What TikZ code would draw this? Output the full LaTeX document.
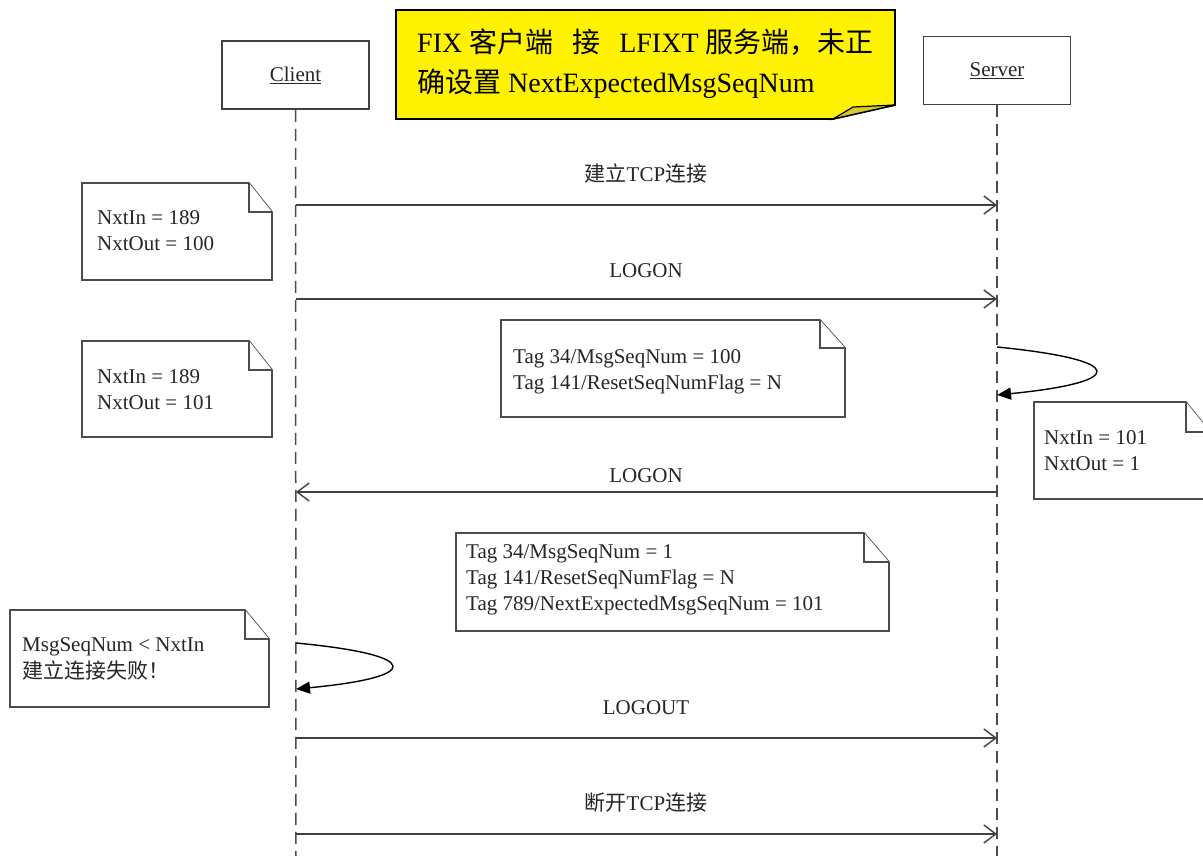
\documentclass[tikz,border=0pt]{standalone}
\usepackage{fontspec}
\setmainfont{Liberation Serif}
\newfontfamily\cjk{Noto Sans CJK SC}
\usetikzlibrary{arrows.meta}
\newcommand\myfs[1]{\fontsize{#1}{#1}\selectfont}
\newcommand\zh[1]{{\cjk #1}}
\newcommand\notepath[6]{%
  \draw[notebox] (#1,#2) -- ({#3-#5},#2) -- (#3,{#2+#6}) -- (#3,#4) -- (#1,#4) -- cycle;
  \draw[notebox] ({#3-#5},#2) -- ({#3-#5},{#2+#6}) -- (#3,{#2+#6});}
\tikzset{
  lifebox/.style={draw=black!75, line width=1.7pt, fill=white, minimum width=147pt, minimum height=68pt, inner sep=0pt, font=\myfs{21}, text=black!85},
  lifeline/.style={draw=black!70, line width=1.5pt, dash pattern=on 12pt off 7pt},
  msg/.style={draw=black!75, line width=1.4pt, -{Straight Barb[length=12pt,width=18pt,line width=1.4pt]}},
  selfmsg/.style={draw=black, line width=1.4pt, -{Triangle[length=14pt,width=12pt]}},
  notebox/.style={draw=black!70, line width=1.7pt, fill=white},
  notetext/.style={anchor=base west, inner sep=0pt, font=\myfs{21}, text=black!85},
  msglbl/.style={font=\myfs{21}, inner sep=0pt, text=black!85},
  titletext/.style={anchor=base west, inner sep=0pt, font=\myfs{28}, text=black},
}
\begin{document}
\begin{tikzpicture}[x=1pt,y=-1pt]
\useasboundingbox (0,0) rectangle (1203,856);
\fill[white] (0,0) rectangle (1203,856);

% lifeline heads
\node[lifebox] (client) at (295.5,75) {\underline{Client}};
\node[lifebox] (server) at (997,70.5) {\underline{Server}};
\coordinate (cend) at (296,860);
\coordinate (send) at (997,860);
\draw[lifeline] (client.south) -- (cend);
\draw[lifeline] (server.south) -- (send);

% title note
\draw[draw=black, line width=1.8pt, fill=yellow] (396,10) -- (895,10) -- (895,105) -- (833,119) -- (396,119) -- cycle;
\draw[draw=black, line width=1.2pt, fill=yellow!80!black] (833,119) -- (853,107) -- (895,105) -- cycle;
\node[titletext] (t1) at (417,53) {FIX \zh{客户端}\hspace{19pt}\zh{接}\hspace{19pt}LFIXT \zh{服务端，未正}};
\node[titletext] (t2) at (417,93) {\zh{确设置} NextExpectedMsgSeqNum};

% notes
\notepath{82}{183}{272}{280}{23}{29}
\node[notetext] (a1) at (97,225) {NxtIn = 189};
\node[notetext] (a2) at (97,251) {NxtOut = 100};

\notepath{82}{341}{272}{437}{23}{29}
\node[notetext] (b1) at (97,383) {NxtIn = 189};
\node[notetext] (b2) at (97,409) {NxtOut = 101};

\notepath{501}{320}{845}{417}{25}{28}
\node[notetext] (c1t) at (513,363) {Tag 34/MsgSeqNum = 100};
\node[notetext] (c2t) at (513,389) {Tag 141/ResetSeqNumFlag = N};

\notepath{1034}{402}{1210}{499}{24}{30}
\node[notetext] (d1) at (1044,444) {NxtIn = 101};
\node[notetext] (d2) at (1044,470) {NxtOut = 1};

\notepath{456}{533}{889}{631}{25}{29}
\node[notetext] (e1) at (466,558) {Tag 34/MsgSeqNum = 1};
\node[notetext] (e2) at (466,584) {Tag 141/ResetSeqNumFlag = N};
\node[notetext] (e3) at (466,610) {Tag 789/NextExpectedMsgSeqNum = 101};

\notepath{10}{610}{269}{707}{24}{29}
\node[notetext] (f1) at (22,651) {MsgSeqNum < NxtIn};
\node[notetext] (f2) at (22,678) {\zh{建立连接失败！}};

% message coordinates
\coordinate (cm1) at (296,205); \coordinate (sm1) at (997,205);
\coordinate (cm2) at (296,299); \coordinate (sm2) at (997,299);
\coordinate (sl1a) at (997,347); \coordinate (sl1b) at (997,395);
\coordinate (cm3) at (296,492); \coordinate (sm3) at (997,492);
\coordinate (cl1a) at (296,643); \coordinate (cl1b) at (296,689);
\coordinate (cm4) at (296,738); \coordinate (sm4) at (997,738);
\coordinate (cm5) at (296,834); \coordinate (sm5) at (997,834);

\draw[msg] (cm1) -- (sm1);
\node[msglbl] (l1) at (646,173) {\zh{建立}TCP\zh{连接}};
\draw[msg] (cm2) -- (sm2);
\node[msglbl] (l2) at (646,271) {LOGON};
\draw[selfmsg] (sl1a) .. controls (1128,360) and (1128,382) .. (sl1b);
\draw[msg] (sm3) -- (cm3);
\node[msglbl] (l3) at (646,476) {LOGON};
\draw[selfmsg] (cl1a) .. controls (423,655) and (423,677) .. (cl1b);
\draw[msg] (cm4) -- (sm4);
\node[msglbl] (l4) at (646,708) {LOGOUT};
\draw[msg] (cm5) -- (sm5);
\node[msglbl] (l5) at (646,803) {\zh{断开}TCP\zh{连接}};
\end{tikzpicture}
\end{document}
